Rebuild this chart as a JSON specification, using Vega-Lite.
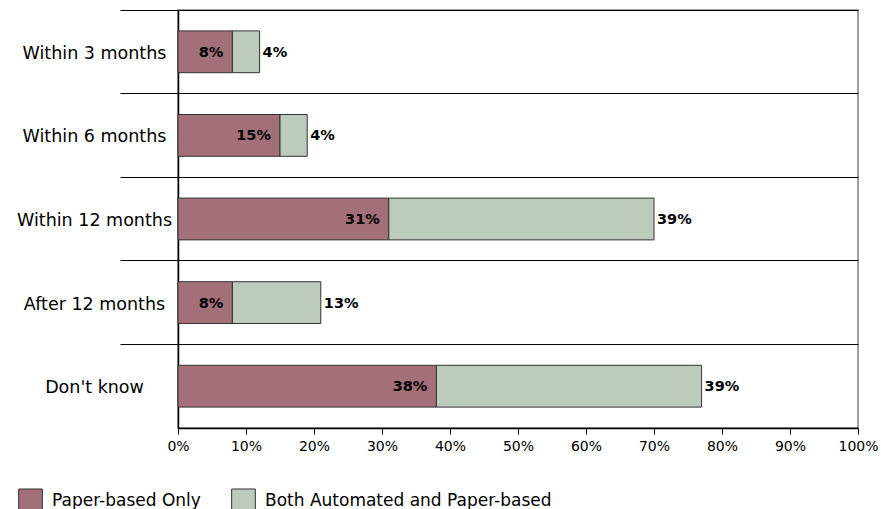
{
  "$schema": "https://vega.github.io/schema/vega-lite/v6.json",
  "autosize": "none",
  "width": 680,
  "height": 418,
  "padding": {"left": 178, "top": 10, "right": 23, "bottom": 81},
  "config": {
    "font": "DejaVu Sans",
    "view": {"stroke": "#808080", "strokeWidth": 1.5}
  },
  "data": {
    "values": [
      {"cat": "Within 3 months", "series": "Paper-based Only", "value": 0.08},
      {"cat": "Within 3 months", "series": "Both Automated and Paper-based", "value": 0.04},
      {"cat": "Within 6 months", "series": "Paper-based Only", "value": 0.15},
      {"cat": "Within 6 months", "series": "Both Automated and Paper-based", "value": 0.04},
      {"cat": "Within 12 months", "series": "Paper-based Only", "value": 0.31},
      {"cat": "Within 12 months", "series": "Both Automated and Paper-based", "value": 0.39},
      {"cat": "After 12 months", "series": "Paper-based Only", "value": 0.08},
      {"cat": "After 12 months", "series": "Both Automated and Paper-based", "value": 0.13},
      {"cat": "Don't know", "series": "Paper-based Only", "value": 0.38},
      {"cat": "Don't know", "series": "Both Automated and Paper-based", "value": 0.39}
    ]
  },
  "transform": [
    {"stack": "value", "groupby": ["cat"], "sort": [{"field": "series", "order": "descending"}], "as": ["v0", "v1"]}
  ],
  "encoding": {
    "y": {
      "field": "cat",
      "type": "nominal",
      "sort": null,
      "title": null,
      "scale": {"paddingInner": 0.5, "paddingOuter": 0.25},
      "axis": {
        "bandPosition": -0.5,
        "grid": true,
        "gridColor": "#000000",
        "gridOpacity": 1,
        "gridWidth": 1,
        "tickSize": 58,
        "tickColor": "#000000",
        "tickWidth": 1,
        "domainColor": "#000000",
        "domainWidth": 1.5,
        "labelAlign": "center",
        "labelPadding": 26,
        "labelOffset": 2,
        "labelFontSize": 17.5,
        "labelColor": "#000000",
        "labelLimit": 300
      }
    }
  },
  "layer": [
    {
      "mark": {"type": "bar", "stroke": "#333333", "strokeWidth": 1},
      "encoding": {
        "x": {
          "field": "v0",
          "type": "quantitative",
          "scale": {"domain": [0, 1], "nice": false},
          "title": null,
          "axis": {
            "values": [0, 0.1, 0.2, 0.3, 0.4, 0.5, 0.6, 0.7, 0.8, 0.9, 1],
            "format": ".0%",
            "grid": false,
            "tickSize": 6,
            "tickColor": "#000000",
            "domainColor": "#000000",
            "domainWidth": 1.5,
            "labelFontSize": 14,
            "labelColor": "#000000",
            "labelPadding": 5,
            "labelFlush": false
          }
        },
        "x2": {"field": "v1"},
        "color": {
          "field": "series",
          "type": "nominal",
          "title": null,
          "scale": {
            "domain": ["Paper-based Only", "Both Automated and Paper-based"],
            "range": ["#A37079", "#BCCBBC"]
          },
          "legend": {
            "orient": "none",
            "legendX": -160,
            "legendY": 478,
            "direction": "horizontal",
            "symbolType": "square",
            "symbolSize": 560,
            "symbolStrokeColor": "#333333",
            "symbolStrokeWidth": 1,
            "symbolOpacity": 1,
            "labelFontSize": 17,
            "labelColor": "#000000",
            "labelOffset": 9,
            "columnPadding": 28,
            "labelLimit": 400
          }
        }
      }
    },
    {
      "transform": [{"filter": "datum.series === 'Paper-based Only'"}],
      "mark": {"type": "text", "align": "right", "dx": -9, "dy": 1, "fontWeight": "bold", "fontSize": 14.5, "color": "#000000"},
      "encoding": {
        "x": {"field": "v1", "type": "quantitative"},
        "text": {"field": "value", "type": "quantitative", "format": ".0%"}
      }
    },
    {
      "transform": [{"filter": "datum.series !== 'Paper-based Only'"}],
      "mark": {"type": "text", "align": "left", "dx": 3, "dy": 1, "fontWeight": "bold", "fontSize": 14.5, "color": "#000000"},
      "encoding": {
        "x": {"field": "v1", "type": "quantitative"},
        "text": {"field": "value", "type": "quantitative", "format": ".0%"}
      }
    }
  ]
}
